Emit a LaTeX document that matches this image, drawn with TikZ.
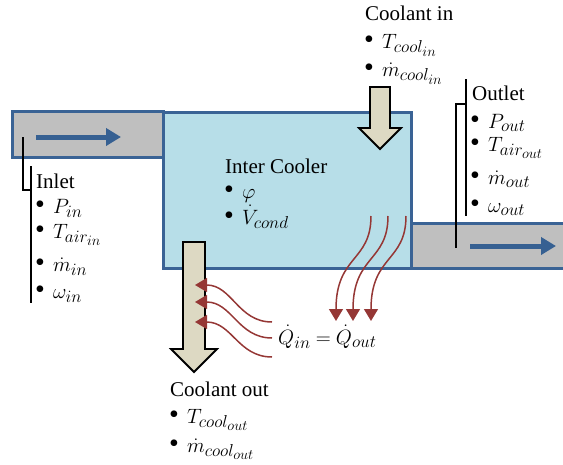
\documentclass[tikz,border=0pt]{standalone}
\usepackage{fontspec}
\setmainfont{Liberation Serif}
\usetikzlibrary{arrows.meta}
\DeclareMathSizes{21}{22.5}{17}{15}
\definecolor{pipeblue}{HTML}{3A6395}
\definecolor{arrowblue}{HTML}{366092}
\definecolor{coolfill}{HTML}{B7DEE8}
\definecolor{pipegray}{HTML}{BFBFBF}
\definecolor{coolant}{HTML}{DDD9C3}
\definecolor{heatred}{HTML}{953735}
\newcommand{\bul}{{\fontsize{28}{28}\selectfont\textbullet}\hspace{8pt}}
\begin{document}
\begin{tikzpicture}[x=1pt,y=-1pt,
  txt/.style={anchor=base west,inner sep=0pt,font=\fontsize{21}{25}\selectfont},
  pipe/.style={draw=pipeblue,line width=3pt,fill=pipegray},
  flow/.style={draw=arrowblue,line width=5pt,-{Triangle[width=17pt,length=15pt]}},
  coolarrow/.style={draw=black,line width=1.8pt,fill=coolant,line join=miter},
  heat/.style={draw=heatred,line width=1.5pt,-{Triangle[width=14pt,length=12pt]}},
  bracket/.style={draw=black,line width=1.3pt}]
\useasboundingbox (0,0) rectangle (563,464);
% pipes and cooler
\draw[pipe] (12,111) rectangle (163,157);
\fill[pipegray] (411,223) rectangle (575,268);
\draw[pipeblue,line width=3pt] (411,223) -- (575,223) (575,268) -- (411,268);
\draw[draw=pipeblue,line width=3pt,fill=coolfill] (163,112) rectangle (411,268);
% flow arrows
\coordinate (inA) at (36,137); \coordinate (inB) at (121,137);
\coordinate (outA) at (470,246); \coordinate (outB) at (556,246);
\draw[flow] (inA) -- (inB);
\draw[flow] (outA) -- (outB);
% brackets
\draw[bracket] (23,137) -- (23,190) -- (31,190);
\draw[bracket] (31,166) -- (31,303);
\draw[bracket] (456,248) -- (456,104) -- (466,104);
\draw[bracket] (466,79) -- (466,216);
% coolant arrows
\draw[coolarrow] (370,87) -- (390,87) -- (390,128) -- (401,128) -- (380,149) -- (359,128) -- (370,128) -- cycle;
\draw[coolarrow] (183,242) -- (205,242) -- (205,349) -- (217,349) -- (194,372) -- (171,349) -- (183,349) -- cycle;
% heat arrows (right)
\foreach \x in {371,388,406}{
  \draw[heat] (\x,216) .. controls (\x,262) and ({\x-35},255) .. ({\x-35},321);
}
% heat arrows (left)
\draw[heat] (272,322) .. controls (238,322) and (232,285) .. (195,285);
\draw[heat] (272,338) .. controls (238,338) and (232,302) .. (195,302);
\draw[heat] (272,357) .. controls (238,357) and (232,322) .. (195,322);
% texts: Inlet
\node[txt] (inlet) at (36,188) {Inlet};
\node[txt] (in1) at (35,213) {\bul$P_{in}$};
\node[txt] (in2) at (35,238) {\bul$T_{air_{in}}$};
\node[txt] (in3) at (35,271) {\bul$\dot m_{in}$};
\node[txt] (in4) at (35,298) {\bul$\omega_{in}$};
% Coolant in
\node[txt] (cin) at (365,20) {Coolant in};
\node[txt] (cin1) at (364,48) {\bul$T_{cool_{in}}$};
\node[txt] (cin2) at (364,76) {\bul$\dot m_{cool_{in}}$};
% Outlet
\node[txt] (outlet) at (472,100) {Outlet};
\node[txt] (out1) at (470,128) {\bul$P_{out}$};
\node[txt] (out2) at (470,151) {\bul$T_{air_{out}}$};
\node[txt] (out3) at (470,184) {\bul$\dot m_{out}$};
\node[txt] (out4) at (470,212) {\bul$\omega_{out}$};
% Inter Cooler
\node[txt] (ic) at (225,173) {Inter Cooler};
\node[txt] (ic1) at (224,198) {\bul$\varphi$};
\node[txt] (ic2) at (224,224) {\bul$\dot V_{cond}$};
% Coolant out
\node[txt] (cout) at (170,396) {Coolant out};
\node[txt] (cout1) at (169,423) {\bul$T_{cool_{out}}$};
\node[txt] (cout2) at (169,452) {\bul$\dot m_{cool_{out}}$};
% Q
\node[txt] (q) at (278,344) {$\thickmuskip=4.5mu\dot Q_{in} = \dot Q_{out}$};
\end{tikzpicture}
\end{document}
